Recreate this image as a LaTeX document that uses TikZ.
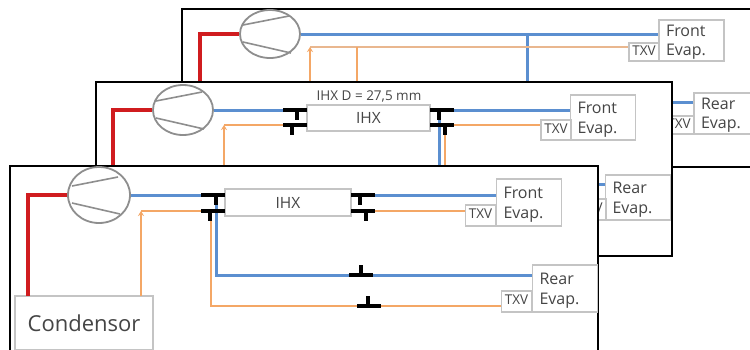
\documentclass[tikz,border=0pt]{standalone}
\usepackage{fontspec}
\setmainfont{Open Sans}
\usetikzlibrary{shapes.geometric, arrows.meta, calc}
\definecolor{pipered}{HTML}{D01C1F}
\definecolor{pipeblue}{HTML}{5B8FD0}
\definecolor{pipeorange}{HTML}{F4A766}
\definecolor{pipetan}{HTML}{E9B78F}
\definecolor{boxgrey}{HTML}{C4C4C4}
\definecolor{compgrey}{HTML}{8E8E8E}
\definecolor{labelgrey}{HTML}{454545}
% left end x, y, stem x, stem length
\newcommand{\teepipe}[5]{%
  \draw[teebar] (#2,#3) coordinate (#1l) -- ++(24,0) coordinate (#1r)
    (#4,#3) -- ++(0,#5) coordinate (#1s);}
\newcommand{\compvanes}[1]{%
  \draw[vane] ($(#1)+(-27,-9)$) -- ($(#1)+(19,-18)$);
  \draw[vane] ($(#1)+(-27,8)$) -- ($(#1)+(21,19)$);}

\begin{document}
\begin{tikzpicture}[x=1pt, y=-1pt,
  panel/.style={draw=black, line width=1.8pt, fill=white},
  comp/.style={ellipse, draw=compgrey, line width=1.8pt, fill=white, inner sep=0pt},
  vane/.style={draw=compgrey, line width=1.6pt},
  box/.style={draw=boxgrey, line width=1.4pt, fill=white, text=labelgrey, inner sep=0pt},
  evap/.style={box, align=left, text width=51pt, inner xsep=7pt, text depth=20pt, font=\fontsize{16}{20}\selectfont},
  evapback/.style={evap, text depth=18.5pt, font=\fontsize{16}{19}\selectfont},
  txv/.style={box, minimum width=30pt, text height=6pt, text depth=0pt, font=\fontsize{13.5}{14}\selectfont},
  ihx/.style={box, font=\fontsize{15.5}{17}\selectfont},
  hot/.style={draw=pipered, line width=3.2pt},
  cold/.style={draw=pipeblue, line width=3pt},
  liquid/.style={draw=pipeorange, line width=2pt},
  liquidup/.style={liquid, -{Stealth[length=5pt, width=6pt]}},
  teebar/.style={draw=black, line width=3.2pt}]
  \clip (0,0) rectangle (750,349);

  % back panel
  \draw[panel] (182,9) rectangle (770,167);
  \node[comp, minimum width=60pt, minimum height=48pt] (c3) at (270,34) {};
  \compvanes{c3}
  \node[evapback, minimum height=41pt] (f3) at (691.5,40.5) {Front\\Evap.};
  \node[txv, minimum height=18pt] (tf3) at (644,52) {TXV};
  \node[evapback, minimum height=41pt] (r3) at (726.5,113.5) {Rear\\Evap.};
  \node[txv, minimum height=18pt] (tr3) at (679,125) {TXV};
  \coordinate (h3) at (200,82);
  \coordinate (o3) at (310,82);
  \coordinate (oc3) at (310,47);
  \coordinate (oj3) at (357,47);
  \coordinate (bj3) at (527,34);
  \draw[hot] (c3.west) -| (h3);
  \draw[cold] (c3.east) -- (f3.west |- c3.east);
  \draw[cold] (bj3) |- (r3.west |- 0,102);
  \draw[liquid, draw=pipetan] (oc3) -- (tf3.west |- oc3);
  \draw[liquid] (oj3) |- (tr3.west);
  \draw[liquidup] (o3) -- (oc3);

  % middle panel
  \draw[panel] (96,82) rectangle (672,256);
  \node[comp, minimum width=60pt, minimum height=50pt] (c2) at (183,110) {};
  \compvanes{c2}
  \node[ihx, minimum width=123pt, minimum height=26pt] (x2) at (368.5,118) {IHX};
  \node[font=\fontsize{13.5}{15}\selectfont, text=labelgrey, inner sep=0pt] (d2) at (369,96) {IHX D = 27,5 mm};
  \node[evap, minimum height=45pt] (f2) at (603,117.5) {Front\\Evap.};
  \node[txv, minimum height=20pt] (tf2) at (556,130) {TXV};
  \node[evap, minimum height=45pt] (r2) at (638,197.5) {Rear\\Evap.};
  \node[txv, minimum height=21pt] (tr2) at (591,209.5) {TXV};
  \coordinate (h2) at (113,166);
  \coordinate (o2) at (224,166);
  \coordinate (oc2) at (224,125);
  \draw[hot] (c2.west) -| (h2);
  \draw[cold] (c2.east) -- (283,110);
  \draw[liquid] (oc2) -- (283,125);
  \draw[liquidup] (o2) -- (oc2);
  \draw[cold] (453,110) -- (f2.west |- 453,110);
  \draw[liquid] (453,125) -- (tf2.west |- 453,125);
  \draw[cold] (439,120) |- (r2.west |- 0,184);
  \draw[liquid] (445,135) |- (tr2.west);
  \teepipe{a2}{283}{110}{297}{10}
  \teepipe{b2}{283}{125}{292}{10}
  \teepipe{e2}{430}{110}{439}{10}
  \teepipe{g2}{430}{125}{445}{10}

  % front panel
  \draw[panel] (10,166) rectangle (598,360);
  \node[comp, minimum width=62pt, minimum height=56pt] (c1) at (99,195) {};
  \compvanes{c1}
  \node[box, minimum width=138pt, minimum height=54pt, font=\fontsize{22}{24}\selectfont] (cond) at (84,323) {Condensor};
  \node[ihx, minimum width=126pt, minimum height=27pt] (x1) at (288,202.5) {IHX};
  \node[evap, minimum height=47pt] (f1) at (529,202.5) {Front\\Evap.};
  \node[txv, minimum height=21pt] (tf1) at (480.5,215.5) {TXV};
  \node[evap, minimum height=47pt] (r1) at (565,288.5) {Rear\\Evap.};
  \node[txv, minimum height=21pt] (tr1) at (516.5,301.5) {TXV};
  \coordinate (h1) at (28,296);
  \coordinate (o1) at (141,296);
  \coordinate (oc1) at (141,211);
  \draw[hot] (c1.west) -| (h1);
  \draw[cold] (c1.east) -- (201,195);
  \draw[liquid] (oc1) -- (201,211);
  \draw[liquidup] (o1) -- (oc1);
  \draw[cold] (375,195) -- (f1.west |- 375,195);
  \draw[liquid] (375,211) -- (tf1.west |- 375,211);
  \draw[cold] (216,205) |- (r1.west |- 0,275);
  \draw[liquid] (211,221) |- (tr1.west |- 0,306);
  \teepipe{a1}{201}{195}{216}{10}
  \teepipe{b1}{201}{211}{210}{10}
  \teepipe{e1}{351}{195}{360}{10}
  \teepipe{g1}{351}{211}{366}{10}
  \teepipe{k1}{349}{275}{361}{-10}
  \teepipe{m1}{357}{306}{368}{-10}
\end{tikzpicture}
\end{document}
